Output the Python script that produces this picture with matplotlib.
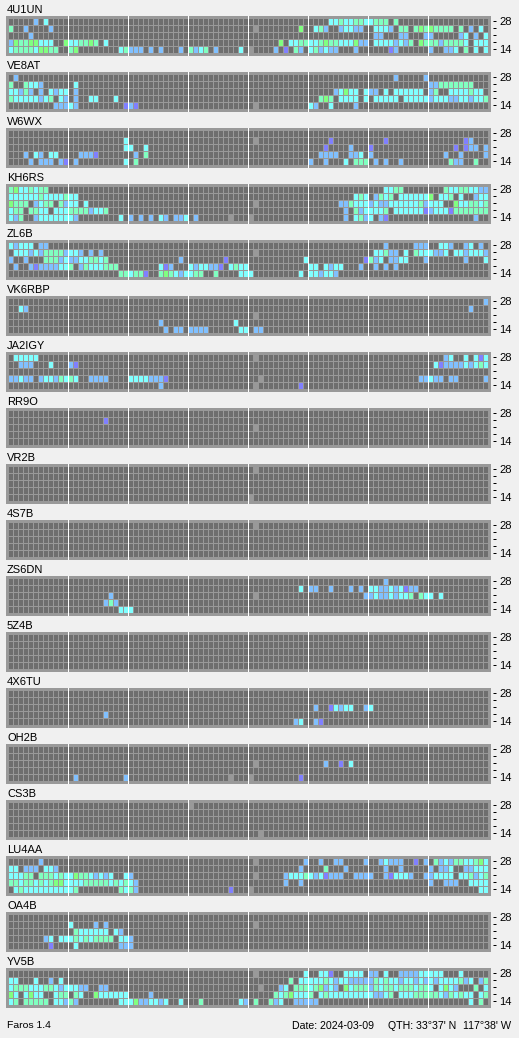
import numpy as np
import matplotlib
matplotlib.use("Agg")
import matplotlib.pyplot as plt

plt.rcParams['font.family'] = ['Liberation Sans', 'DejaVu Sans']
plt.rcParams['text.hinting'] = 'native'

STATIONS = ["4U1UN", "VE8AT", "W6WX", "KH6RS", "ZL6B", "VK6RBP", "JA2IGY", "RR9O", "VR2B",
            "4S7B", "ZS6DN", "5Z4B", "4X6TU", "OH2B", "CS3B", "LU4AA", "OA4B", "YV5B"]
BAND_LABELS = ["14", "", "", "", "28"]

# each station: bands 28 -> 14; "start:levels" with '.' = no signal
# levels: p weakest ... g strongest, x = no data
S_4U1UN = ["5:b.c 64:cctccttccttt.t",
           "0:t 3:b 8:b 49:x 58:g 61:ctb 66:bccbb 73:cccb 78:tt 81:tgtgtttt 90:t 92:b 94:c",
           "4:b 73:bb 78:bb 83:bb 90:bc 93:b 95:c",
           "0:bgttggccc 11:gccttgt 19:c 54:g 56:ccttcctgttcccgbb 73:ccccbcbt 82:gtttbttttc 93:ccc",
           "0:cttttcggtt 12:tg 22:ctbbb 28:b 30:b 34:b 36:tbct 41:b 46:c 48:x 53:b 55:p 57:tb 60:ctbcbb 69:b 76:pb 84:b 87:bbc 91:t 93:c 95:c"]
S_VE8AT = ["1:b 77:b 83:b",
           "0:t 3:tccb 13:c 84:bbttttttt",
           "0:ccbtb 6:b 8:cbcc 13:b 65:bcgcc 71:cbb 75:c 77:cccccc 84:bt 88:cccctcc",
           "0:tcccccbct 10:cb 13:b 16:cc 21:c 62:tgt 66:cccc 71:c 73:ccccc 79:ccccc 84:bcccbbc 91:cbcct",
           "9:bbbcb 23:pbp 49:x 60:cb 64:c 69:b"]
S_W6WX = ["",
          "23:c 49:x 64:p 75:p 91:pb",
          "23:cc 27:c 63:p 68:b 72:p 89:p 91:pbb 95:b",
          "3:b 5:cb 8:cc 14:bbbp 25:b 27:t 62:bbbb 68:bbc 72:b 87:b 90:b 95:b",
          "4:b 6:bbb 10:bp 13:b 23:c 25:t 60:b 63:b 67:c 69:ttt 73:b 75:b 78:b 88:tbb 93:t"]
S_KH6RS = ["0:tgcctctt 75:cctt 87:tccttccbb",
           "0:cccccctcccctcc 69:ctc 73:btct 78:cccccc 84:g 86:cct 90:c 93:bcc",
           "0:gttt 5:bctt 10:tbcc 15:c 49:x 66:bbtcccbcbbcccccctb 84:ccc 89:gcc 92:ttct",
           "0:ctt 4:ttcc 9:ccc 12:ttttbcct 67:b 69:tbcc 73:cct 77:cccccc 83:p 84:bcccpttttttt",
           "0:cbt 5:bcccccccb 22:c 24:b 26:b 28:b 30:cb 33:bbc 37:b 44:x 48:x 67:b 69:ctbc 74:bp 93:b"]
S_ZL6B = ["0:cbccc 6:bb 75:b 81:bbb 86:ccb 91:bc 94:b",
          "1:cccbcbttttbccb 16:b 18:b 49:x 73:cctbb 79:c 81:tccc 85:bbc 89:ccbcccb",
          "0:b 3:b 7:tttbcbbccttct 34:b 43:p 59:c 71:ptbc 76:bbcc 83:b 91:b 95:c",
          "1:b 4:bpbbbbcct 14:btcccttt 30:cpb 36:cbccbbp 44:ctcc 60:cc 63:cbcc 70:b 73:b 75:b 77:b",
          "22:ttcttp 30:tgtcbcctt 41:t 46:ccc 58:c 60:ccbccb"]
S_VK6RBP = ["95:b",
            "2:cb 92:b",
            "49:x",
            "30:b 45:c",
            "31:b 33:bb 36:bbbb 46:cc 49:bb"]
S_JA2IGY = ["1:ccccc 49:x 87:bc 91:c 93:cpc",
            "2:bbb 8:c 12:bp 85:cpbbbbcbctc",
            "",
            "0:bbcbb 6:bccbtctc 16:bbbb 24:ccccbbbp 50:x 82:bbcbb 88:bb 95:b",
            "30:b 49:x 58:p"]
S_RR9O = ["", "19:p", "49:x", "", ""]
S_VR2B = ["49:x", "", "", "", "48:x"]
S_4S7B = ["49:x", "", "", "", ""]
S_ZS6DN = ["75:b",
           "58:c 60:bb 64:b 68:b 70:b 72:ccbbcbcpbb",
           "20:b 49:x 71:bbcbbcbcct 82:tcc 86:c",
           "19:btb",
           "22:ccc"]
S_5Z4B = ["", "", "", "", ""]
S_4X6TU = ["", "", "61:b 64:pcbcc 71:bc", "19:b", "57:bc 61:bp"]
S_OH2B = ["", "", "49:x 63:b 66:p 68:c", "", "13:b 23:b 44:x 48:x 58:p"]
S_CS3B = ["36:x", "", "", "", "50:x"]
S_LU4AA = ["6:b 49:x 59:b 62:b 65:bb 71:b 74:bcbbb 81:p 83:b 85:tbcbttcctgc",
           "0:cc 3:bbb 7:ccb 58:b 63:t 67:b 75:b 78:b 84:b 86:bbc 91:bbccc",
           "0:ccctt 6:tttctccgttcbcbc 23:cb 49:x 55:bccctcbcpbbb 69:bbbb 75:bpcccb 83:bbcccc 90:cct 93:bct",
           "0:ttcttctctggcccctttttctctcb 55:b 58:b 84:b 87:bbb 92:cccc",
           "1:ctcccccccccct 22:tctb 44:p 48:x 94:cc"]
S_OA4B = ["",
          "12:c 17:b 19:b 49:x",
          "13:tcccccc 21:cb",
          "7:bc 10:ccctctctttt 22:ccb",
          "8:p 13:c 22:bbb"]
S_YV5B = ["49:x 59:c 62:ccp 67:cccc 72:bb 75:c 78:bbbbcc 84:ccc 90:c",
          "0:cc 5:c 8:b 10:c 56:t 58:ccccctcbccbbbbbtctccbccbcbcbcccctbc 94:bt",
          "0:ctttccctt 9:cbcccbb 18:bb 50:x 54:bc 57:ttt 60:ctgbcb 67:gctttbtcttctttcttc 86:cgcb 93:t 95:c",
          "0:gc 3:cgcc 9:ctt 13:tc 17:gcccccc 28:b 53:tct 56:gccc 60:t 62:ctcccccccccbbct 78:ccctttttcbtctcc 94:ct",
          "0:ct 3:ttttt 9:ccbtb 22:cccgbbccbc 34:c 38:t 46:cb 49:t 52:tbc 57:bbbbb 92:c 94:t"]

ALL_ROWS = [S_4U1UN, S_VE8AT, S_W6WX, S_KH6RS, S_ZL6B, S_VK6RBP, S_JA2IGY, S_RR9O, S_VR2B,
            S_4S7B, S_ZS6DN, S_5Z4B, S_4X6TU, S_OH2B, S_CS3B, S_LU4AA, S_OA4B, S_YV5B]

COLORS = {'.': '#6e6e6e', 'x': '#999999', 'p': '#8080ff', 'b': '#80c0ff',
          'c': '#80ffff', 't': '#80ffc0', 'g': '#80ff80'}
N_COLS, N_BANDS = 96, 5
W, H = 519, 1038
X0, X1 = 6, 491
TOP0, STEP, STRIP_H = 16, 56, 40


def expand(rows):
    out = {}
    for r, spec in enumerate(rows):
        band = N_BANDS - 1 - r
        for tok in spec.split():
            start, letters = tok.split(':')
            for i, ch in enumerate(letters):
                col = int(start) + i
                if col < N_COLS:
                    out[(col, band)] = ch
    return out


fig = plt.figure(figsize=(W / 100, H / 100), dpi=100, facecolor='#f0f0f0')
px = 72 / 100
for k, (name, rows) in enumerate(zip(STATIONS, ALL_ROWS)):
    top = TOP0 + k * STEP
    ax = fig.add_axes([X0 / W, 1 - (top + STRIP_H) / H, (X1 - X0) / W, STRIP_H / H], facecolor='#999999')
    ax.set_xlim(-0.6, 96.4)
    ax.set_ylim(-3 / 7, 5 + 2 / 7)
    cells = expand(rows)
    by_level = {}
    for c in range(N_COLS):
        for b in range(N_BANDS):
            by_level.setdefault(cells.get((c, b), '.'), []).append((c, b))
    for lev, pts in by_level.items():
        a = np.array(pts)
        ax.bar(a[:, 0], 6 / 7, width=0.8, bottom=a[:, 1], align='edge', color=COLORS[lev],
               linewidth=0, antialiased=False)
    for c in range(12, N_COLS, 12):
        ax.axvspan(c - 0.2, c, color='white', linewidth=0, antialiased=False)
    ax.set_xticks([])
    ax.yaxis.tick_right()
    ax.set_yticks(np.arange(N_BANDS) + 4 / 7)
    ax.set_yticklabels(BAND_LABELS)
    ax.tick_params(axis='y', length=3 * px, width=1 * px, pad=3.5 * px, labelsize=8, colors='black')
    for s in ['top', 'bottom', 'left']:
        ax.spines[s].set_visible(False)
    ax.spines['right'].set_position(('outward', 1.5 * px))
    ax.spines['right'].set_visible(False)
    ax.set_title(name, loc='left', fontsize=8, pad=2.5, x=1 / (X1 - X0), color='black')

FOOT_Y = 1 - 1026 / H
fig.text(7 / W, FOOT_Y, "Faros 1.4", fontsize=7.5, va='center', ha='left')
fig.text(292 / W, FOOT_Y, "Date: 2024-03-09", fontsize=7.6, va='center', ha='left')
fig.text(388 / W, FOOT_Y, "QTH: 33\u00b037' N", fontsize=7.6, va='center', ha='left')
fig.text(463 / W, FOOT_Y, "117\u00b038' W", fontsize=7.6, va='center', ha='left')
fig.savefig('out.png', dpi=100, facecolor=fig.get_facecolor())
